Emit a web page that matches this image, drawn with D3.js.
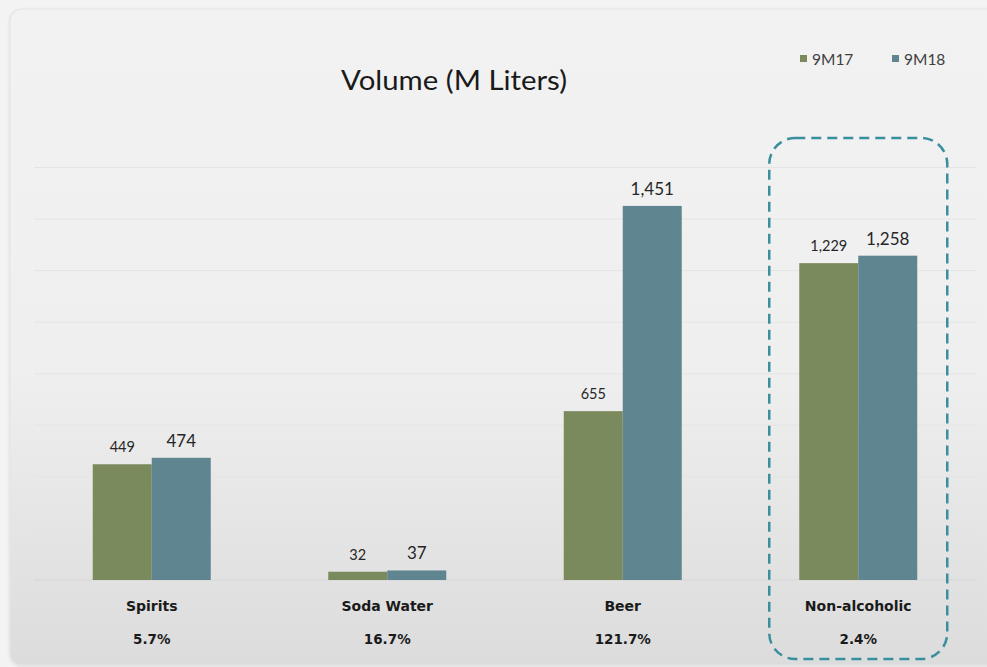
<!DOCTYPE html>
<html>
<head>
<meta charset="utf-8">
<script src="https://cdn.jsdelivr.net/npm/d3@7/dist/d3.min.js"></script>
<style>
  html, body { margin: 0; padding: 0; background: #f2f3f2; }
  svg { display: block; }
</style>
</head>
<body>
<script>
// Volume by category, millions of liters
const categories = ["Spirits", "Soda Water", "Beer", "Non-alcoholic"];
const series = ["9M17", "9M18"];
const values9M17 = [449, 32, 655, 1229];
const values9M18 = [474, 37, 1451, 1258];
const growthLabels = ["5.7%", "16.7%", "121.7%", "2.4%"];
const yTicks = [0, 200, 400, 600, 800, 1000, 1200, 1400, 1600];
const highlighted = "Non-alcoholic";

const W = 987, H = 667;
const colors = { "9M17": "#7b8a5d", "9M18": "#5f8591" };
const font = "Lato, 'Open Sans', sans-serif";
const boldFont = "'DejaVu Sans', Verdana, sans-serif";

const svg = d3.select("body").append("svg").attr("width", W).attr("height", H);
const defs = svg.append("defs");

const grad = defs.append("linearGradient").attr("id", "panelBg")
  .attr("x1", 0).attr("y1", 0).attr("x2", 0).attr("y2", 1);
grad.append("stop").attr("offset", "0%").attr("stop-color", "#f2f2f2");
grad.append("stop").attr("offset", "55%").attr("stop-color", "#efefef");
grad.append("stop").attr("offset", "100%").attr("stop-color", "#dcdcdc");

const shadow = defs.append("filter").attr("id", "shadow")
  .attr("x", "-5%").attr("y", "-5%").attr("width", "110%").attr("height", "110%");
shadow.append("feDropShadow").attr("dx", 0).attr("dy", 1).attr("stdDeviation", 1.5)
  .attr("flood-color", "#000").attr("flood-opacity", 0.12);

// panel
svg.append("rect")
  .attr("x", 10).attr("y", 9).attr("width", 1000).attr("height", 656)
  .attr("rx", 12).attr("ry", 12)
  .attr("fill", "url(#panelBg)").attr("stroke", "#e2e4e2").attr("stroke-width", 1)
  .attr("filter", "url(#shadow)");

// scales
const x = d3.scaleBand().domain(categories).range([34, 976]);
const xs = d3.scaleBand().domain(series).range([0, 118]);
const xOffset = (x.bandwidth() - 118) / 2;
const y = d3.scaleLinear().domain([0, 1600]).range([580, 167.5]);

// gridlines
svg.append("g").selectAll("line").data(yTicks).join("line")
  .attr("x1", 34).attr("x2", 976)
  .attr("y1", d => y(d)).attr("y2", d => y(d))
  .attr("stroke", d => d === 0 ? "#d6d6d6" : "#e4e4e4")
  .attr("stroke-width", 1);

// title
svg.append("text")
  .attr("x", 454).attr("y", 90)
  .attr("text-anchor", "middle")
  .attr("font-family", font).attr("font-size", 26)
  .attr("textLength", 226).attr("lengthAdjust", "spacingAndGlyphs")
  .attr("fill", "#1a1a1a")
  .text("Volume (M Liters)");

// legend
const legend = svg.append("g");
const legendPos = { "9M17": 800, "9M18": 892 };
series.forEach(s => {
  legend.append("rect").attr("x", legendPos[s]).attr("y", 55)
    .attr("width", 7).attr("height", 7).attr("fill", colors[s]);
  legend.append("text").attr("x", legendPos[s] + 12).attr("y", 65)
    .attr("font-family", font).attr("font-size", 15.5).attr("fill", "#404040")
    .text(s);
});

// bars
const rows = categories.map((c, i) => ({ c, i, vals: { "9M17": values9M17[i], "9M18": values9M18[i] } }));
const groups = svg.append("g").selectAll("g").data(rows).join("g")
  .attr("transform", d => `translate(${x(d.c) + xOffset},0)`);

groups.selectAll("rect").data(d => series.map(s => ({ s, v: d.vals[s] }))).join("rect")
  .attr("x", d => xs(d.s))
  .attr("y", d => y(d.v))
  .attr("width", xs.bandwidth())
  .attr("height", d => y(0) - y(d.v))
  .attr("fill", d => colors[d.s]);

groups.selectAll("text.val").data(d => series.map(s => ({ s, v: d.vals[s] }))).join("text")
  .attr("class", "val")
  .attr("x", d => xs(d.s) + xs.bandwidth() / 2)
  .attr("y", d => y(d.v) - (d.s === "9M17" ? 12 : 11))
  .attr("text-anchor", "middle")
  .attr("font-family", font)
  .attr("font-size", d => d.s === "9M17" ? 14.5 : 17)
  .attr("fill", "#262626")
  .text(d => d3.format(",")(d.v));

// category labels and growth
const cx = c => x(c) + x.bandwidth() / 2;
svg.append("g").selectAll("text").data(categories).join("text")
  .attr("x", d => cx(d)).attr("y", 611)
  .attr("text-anchor", "middle")
  .attr("font-family", boldFont).attr("font-size", 14).attr("font-weight", "bold")
  .attr("fill", "#1a1a1a")
  .text(d => d);

svg.append("g").selectAll("text").data(categories).join("text")
  .attr("x", d => cx(d)).attr("y", 644)
  .attr("text-anchor", "middle")
  .attr("font-family", boldFont).attr("font-size", 13.5).attr("font-weight", "bold")
  .attr("fill", "#1a1a1a")
  .text((d, i) => growthLabels[i]);

// dashed highlight around the non-alcoholic group
const hx = cx(highlighted);
svg.append("rect")
  .attr("x", hx - 89).attr("y", 138)
  .attr("width", 178).attr("height", 521)
  .attr("rx", 26).attr("ry", 26)
  .attr("fill", "none")
  .attr("stroke", "#3a8f9e").attr("stroke-width", 2.5)
  .attr("stroke-dasharray", "10,6");
</script>
</body>
</html>
